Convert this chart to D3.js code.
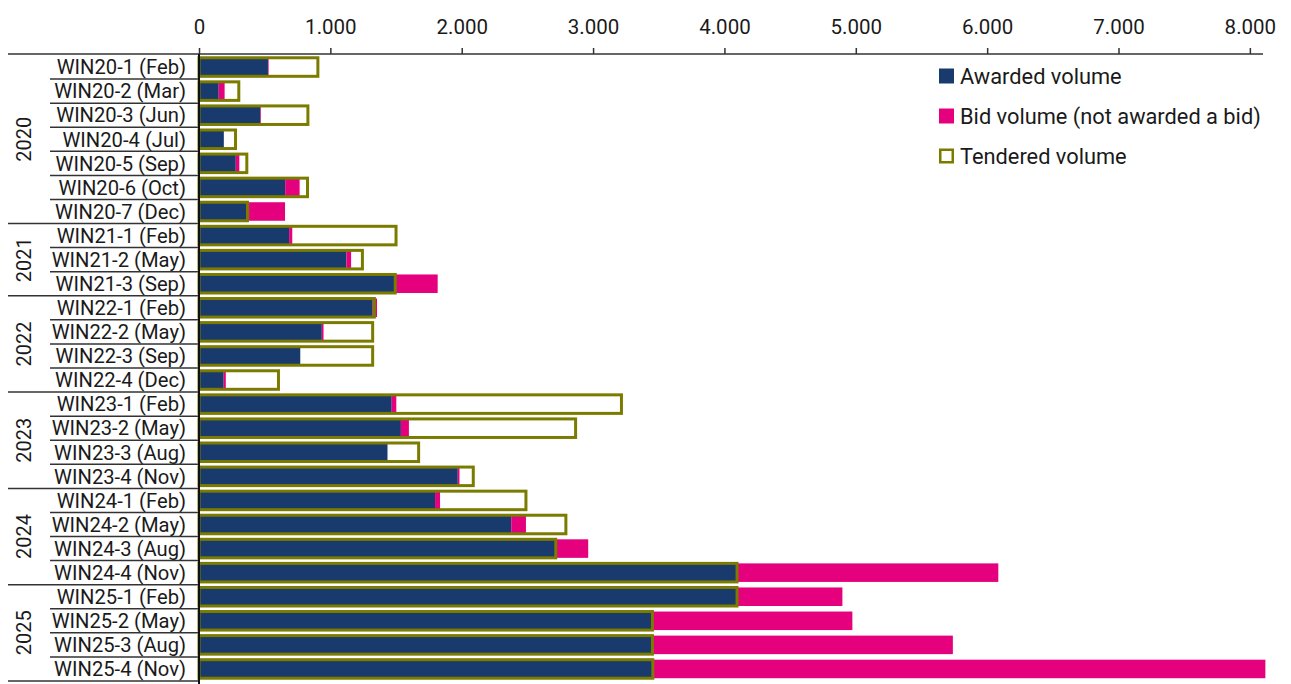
<!DOCTYPE html>
<html>
<head>
<meta charset="utf-8">
<script src="https://cdn.jsdelivr.net/npm/d3@7"></script>
<style>
  html, body { margin: 0; padding: 0; background: #fff; }
  svg { display: block; }
  text { font-family: Roboto, "Liberation Sans", sans-serif; fill: #1a1a1a; }
</style>
</head>
<body>
<svg id="chart" width="1291" height="684"></svg>
<script>
// Tender rounds, grouped by year
const categories = [
  "WIN20-1 (Feb)", "WIN20-2 (Mar)", "WIN20-3 (Jun)", "WIN20-4 (Jul)", "WIN20-5 (Sep)", "WIN20-6 (Oct)", "WIN20-7 (Dec)",
  "WIN21-1 (Feb)", "WIN21-2 (May)", "WIN21-3 (Sep)",
  "WIN22-1 (Feb)", "WIN22-2 (May)", "WIN22-3 (Sep)", "WIN22-4 (Dec)",
  "WIN23-1 (Feb)", "WIN23-2 (May)", "WIN23-3 (Aug)", "WIN23-4 (Nov)",
  "WIN24-1 (Feb)", "WIN24-2 (May)", "WIN24-3 (Aug)", "WIN24-4 (Nov)",
  "WIN25-1 (Feb)", "WIN25-2 (May)", "WIN25-3 (Aug)", "WIN25-4 (Nov)"
];
const years = ["2020", "2021", "2022", "2023", "2024", "2025"];

// Volumes
const awarded = [
  525, 150, 467, 189, 280, 656, 381,
  686, 1122, 1485,
  1322, 935, 771, 188,
  1467, 1537, 1435, 1970,
  1797, 2377, 2710, 4090,
  4090, 3448, 3448, 3452
];
const bidNotAwarded = [
  5, 45, 5, 0, 27, 110, 274,
  24, 36, 332,
  33, 13, 0, 16,
  35, 61, 0, 13,
  38, 112, 253, 1995,
  808, 1526, 2291, 4666
];
const tendered = [
  905, 303, 829, 278, 364, 826, 369,
  1500, 1244, 1494,
  1335, 1322, 1322, 605,
  3216, 2867, 1672, 2088,
  2489, 2793, 2716, 4096,
  4096, 3452, 3452, 3455
];
const xTicks = [0, 1000, 2000, 3000, 4000, 5000, 6000, 7000, 8000];
const legendItems = ["Awarded volume", "Bid volume (not awarded a bid)", "Tendered volume"];

const colAwarded = "#193a6d";
const colBid = "#e5007e";
const colTender = "#7b7b00";

const svg = d3.select("#chart");
const axisY = 54;

const x = d3.scaleLinear().domain([0, 8100]).range([199, 1263]);
const rows = d3.scaleBand().domain(categories).range([55, 681]);
const barH = rows.step() * 0.77;
const barY = c => rows(c) + (rows.step() - barH) / 2;

const data = categories.map((c, i) => ({
  cat: c,
  year: "20" + c.slice(3, 5),
  awarded: awarded[i],
  bid: bidNotAwarded[i],
  tendered: tendered[i]
}));

// Top axis with European thousands separator
const fmt = d => d3.format(",")(d).replace(/,/g, ".");
const axis = d3.axisTop(x).tickValues(xTicks).tickFormat(fmt).tickSize(6).tickPadding(14);
const gAxis = svg.append("g").attr("transform", `translate(0,${axisY})`).call(axis);
gAxis.select(".domain").remove();
gAxis.selectAll(".tick line").attr("stroke", "#333").attr("stroke-width", 1.5);
gAxis.selectAll(".tick text").attr("font-size", 20.5).attr("fill", "#1a1a1a")
  .style("font-family", "Roboto, 'Liberation Sans', sans-serif");
svg.append("line").attr("x1", 8).attr("x2", 1263).attr("y1", axisY).attr("y2", axisY)
  .attr("stroke", "#333").attr("stroke-width", 1.5);

// Bars: awarded, then bid not awarded stacked after it, then tendered outline
const bars = svg.append("g");
bars.selectAll("rect.aw").data(data).join("rect").attr("class", "aw")
  .attr("x", x(0)).attr("y", d => barY(d.cat))
  .attr("width", d => x(d.awarded) - x(0)).attr("height", barH)
  .attr("fill", colAwarded);
bars.selectAll("rect.bid").data(data.filter(d => d.bid > 0)).join("rect").attr("class", "bid")
  .attr("x", d => x(d.awarded)).attr("y", d => barY(d.cat))
  .attr("width", d => x(d.awarded + d.bid) - x(d.awarded)).attr("height", barH)
  .attr("fill", colBid);
bars.selectAll("rect.td").data(data).join("rect").attr("class", "td")
  .attr("x", x(0)).attr("y", d => barY(d.cat))
  .attr("width", d => x(d.tendered) - x(0)).attr("height", barH)
  .attr("fill", "none").attr("stroke", colTender).attr("stroke-width", 3);

// Category labels and row separators
const lab = svg.append("g");
lab.selectAll("text").data(categories).join("text")
  .attr("x", 186).attr("y", c => rows(c) + rows.step() / 2)
  .attr("dy", "0.36em").attr("text-anchor", "end").attr("font-size", 20.2)
  .text(c => c);

const isGroupEnd = (c, i) => i === categories.length - 1 || data[i + 1].year !== data[i].year;
lab.selectAll("line").data(categories).join("line")
  .attr("x1", (c, i) => isGroupEnd(c, i) ? 8 : 50).attr("x2", 199)
  .attr("y1", c => rows(c) + rows.step()).attr("y2", c => rows(c) + rows.step())
  .attr("stroke", "#333").attr("stroke-width", 1.5);

// Year labels, rotated, centred on each group
const yearG = svg.append("g");
years.forEach(yr => {
  const members = data.filter(d => d.year === yr);
  const top = rows(members[0].cat);
  const bot = rows(members[members.length - 1].cat) + rows.step();
  const cy = (top + bot) / 2;
  yearG.append("text")
    .attr("transform", `translate(24,${cy}) rotate(-90)`)
    .attr("text-anchor", "middle").attr("dy", "0.36em").attr("font-size", 20)
    .text(yr);
});

// Vertical baseline
svg.append("line").attr("x1", x(0)).attr("x2", x(0)).attr("y1", axisY).attr("y2", 684)
  .attr("stroke", "#111").attr("stroke-width", 2);

// Legend
const leg = svg.append("g").attr("transform", "translate(939,0)");
legendItems.forEach((name, i) => {
  const cy = 76 + i * 40;
  if (i < 2) {
    leg.append("rect").attr("x", 0).attr("y", cy - 7.5).attr("width", 15).attr("height", 15)
      .attr("fill", i === 0 ? colAwarded : colBid);
  } else {
    leg.append("rect").attr("x", 1.25).attr("y", cy - 6.25).attr("width", 12.5).attr("height", 12.5)
      .attr("fill", "none").attr("stroke", colTender).attr("stroke-width", 2.5);
  }
  leg.append("text").attr("x", 21).attr("y", cy).attr("dy", "0.36em")
    .attr("font-size", 21.8).text(name);
});
</script>
</body>
</html>
